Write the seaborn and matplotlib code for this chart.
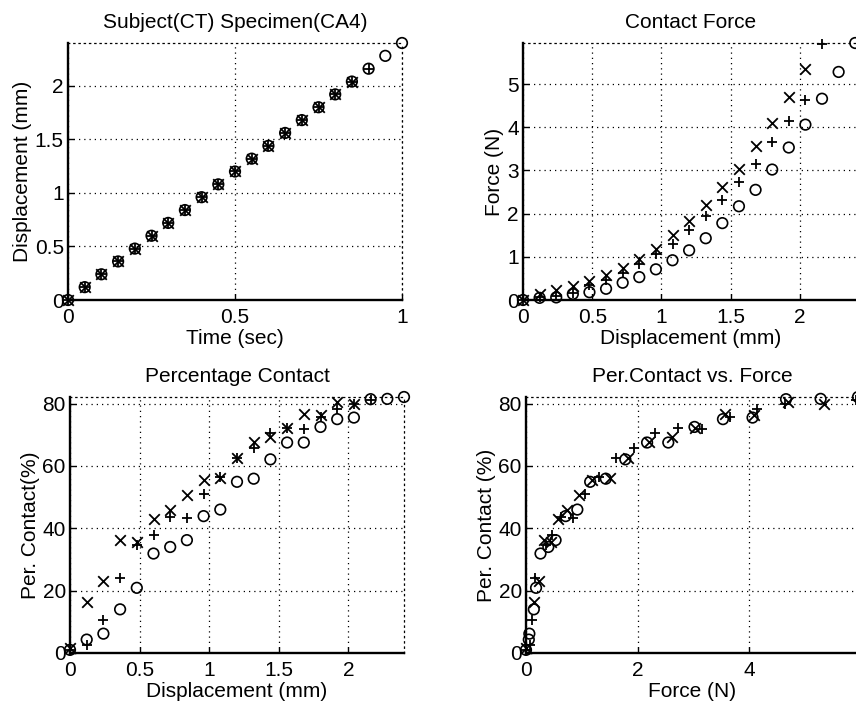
import matplotlib
matplotlib.use("Agg")
import matplotlib.pyplot as plt
import pandas as pd
import seaborn as sns
from matplotlib.ticker import FuncFormatter

# Sample times (sec) and platen displacement (mm)
time_s = [0.00, 0.05, 0.10, 0.15, 0.20, 0.25, 0.30, 0.35, 0.40, 0.45, 0.50,
          0.55, 0.60, 0.65, 0.70, 0.75, 0.80, 0.85, 0.90, 0.95, 1.00]
displacement_mm = [0.00, 0.12, 0.24, 0.36, 0.48, 0.60, 0.72, 0.84, 0.96, 1.08, 1.20,
                   1.32, 1.44, 1.56, 1.68, 1.80, 1.92, 2.04, 2.16, 2.28, 2.40]

# Contact force (N) for the three trials (x, +, o)
force_x = [0.00, 0.15, 0.24, 0.32, 0.44, 0.58, 0.73, 0.95, 1.19, 1.51, 1.83,
           2.21, 2.61, 3.03, 3.56, 4.09, 4.69, 5.34]
force_p = [0.00, 0.07, 0.10, 0.17, 0.35, 0.46, 0.63, 0.84, 1.06, 1.30, 1.61,
           1.94, 2.32, 2.73, 3.15, 3.65, 4.14, 4.64, 5.92]
force_o = [0.00, 0.05, 0.06, 0.14, 0.18, 0.26, 0.40, 0.53, 0.71, 0.92, 1.15,
           1.43, 1.78, 2.17, 2.55, 3.02, 3.53, 4.06, 4.66, 5.28, 5.95]

# Percentage contact area (%) for the same trials
pct_x = [1.5, 16.4, 23.0, 36.2, 35.6, 43.1, 45.8, 50.8, 55.4, 56.1, 62.4,
         67.7, 69.3, 72.0, 76.8, 76.3, 80.5, 80.0]
pct_p = [1.0, 2.5, 10.7, 23.9, 34.5, 37.8, 43.6, 43.3, 51.1, 56.5, 62.4,
         65.6, 70.4, 72.0, 71.7, 75.8, 78.1, 80.0, 81.0]
pct_o = [1.0, 4.3, 6.2, 14.0, 20.9, 31.9, 34.0, 36.2, 43.9, 46.0, 54.9,
         55.9, 62.1, 67.5, 67.5, 72.5, 75.0, 75.5, 81.4, 81.5, 82.1]

trials = [("x", force_x, pct_x), ("+", force_p, pct_p), ("o", force_o, pct_o)]

sns.set_theme(style="white")
plt.rcParams["font.family"] = ["Liberation Sans", "DejaVu Sans"]

W, H = 856, 708
fig = plt.figure(figsize=(W / 100, H / 100), dpi=100)


def axes_px(x0, y0, x1, y1):
    return fig.add_axes([x0 / W, 1 - y1 / H, (x1 - x0) / W, (y1 - y0) / H])


DOT = (0, (1, 3.2))
FS = 15
fmt = FuncFormatter(lambda v, p: f"{v:g}")


def style(ax, xlim, ylim, xticks, yticks, title, xlabel, ylabel):
    ax.set_xlim(*xlim)
    ax.set_ylim(*ylim)
    ax.set_xticks(xticks)
    ax.set_yticks(yticks)
    ax.xaxis.set_major_formatter(fmt)
    ax.yaxis.set_major_formatter(fmt)
    ax.grid(True, color="black", linestyle=DOT, linewidth=0.9)
    for side in ("left", "bottom"):
        ax.spines[side].set_color("black")
        ax.spines[side].set_linewidth(1.7)
    for side in ("top", "right"):
        ax.spines[side].set_color("black")
        ax.spines[side].set_linewidth(0.9)
        ax.spines[side].set_linestyle(DOT)
    ax.tick_params(direction="in", length=4, width=1, colors="black",
                   labelsize=FS, top=False, right=False,
                   left=True, bottom=True)
    ax.tick_params(axis="x", pad=6)
    ax.tick_params(axis="y", pad=3)
    ax.set_title(title, fontsize=FS, pad=11, color="black")
    ax.set_xlabel(xlabel, fontsize=FS, labelpad=1, color="black")
    ax.set_ylabel(ylabel, fontsize=FS, labelpad=2, color="black")


def scatter(ax, xs, ys, marker):
    df = pd.DataFrame({"a": xs, "b": ys})
    if marker == "o":
        sns.scatterplot(data=df, x="a", y="b", ax=ax, marker="o", s=58,
                        facecolors="none", edgecolors="black", linewidth=1.2,
                        clip_on=False, zorder=3)
    else:
        sns.scatterplot(data=df, x="a", y="b", ax=ax, marker=marker, s=58,
                        color="black", linewidth=1.3, clip_on=False, zorder=3)


# Displacement history
ax1 = axes_px(68, 43, 402, 300)
for m, f, p in trials:
    n = len(f)
    scatter(ax1, time_s[:n], displacement_mm[:n], m)
style(ax1, (0, 1), (0, 2.4), [0, 0.5, 1], [0, 0.5, 1, 1.5, 2],
      "Subject(CT) Specimen(CA4)", "Time (sec)", "Displacement (mm)")

# Force vs displacement
ax2 = axes_px(523, 43, 858, 300)
for m, f, p in trials:
    scatter(ax2, displacement_mm[:len(f)], f, m)
style(ax2, (0, 2.42), (0, 5.95), [0, 0.5, 1, 1.5, 2], [0, 1, 2, 3, 4, 5],
      "Contact Force", "Displacement (mm)", "Force (N)")

# Contact percentage vs displacement
ax3 = axes_px(70, 397, 404, 653)
for m, f, p in trials:
    scatter(ax3, displacement_mm[:len(p)], p, m)
style(ax3, (0, 2.4), (0, 82.1), [0, 0.5, 1, 1.5, 2], [0, 20, 40, 60, 80],
      "Percentage Contact", "Displacement (mm)", "Per. Contact(%)")

# Contact percentage vs force
ax4 = axes_px(526, 397, 858, 653)
for m, f, p in trials:
    scatter(ax4, f, p, m)
style(ax4, (0, 5.95), (0, 82.1), [0, 2, 4], [0, 20, 40, 60, 80],
      "Per.Contact vs. Force", "Force (N)", "Per. Contact (%)")

fig.savefig("out.png", dpi=100, facecolor="white")
